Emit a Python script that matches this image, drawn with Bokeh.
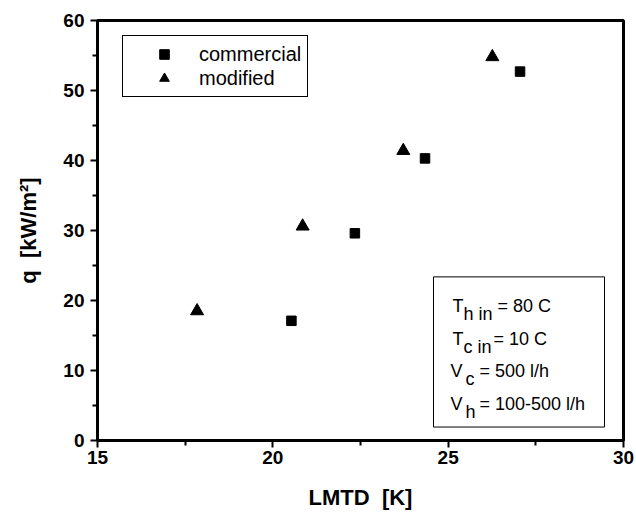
from bokeh.plotting import figure
from bokeh.models import Range1d, Legend, LegendItem, BoxAnnotation, Label, FixedTicker
from bokeh.embed import file_html
from bokeh.resources import INLINE

# ---- data ----
commercial_x = [20.53, 22.34, 24.34, 27.05]
commercial_y = [17.1, 29.6, 40.3, 52.7]
modified_x = [17.84, 20.85, 23.72, 26.26]
modified_y = [18.5, 30.6, 41.4, 54.8]
x_ticks = [15, 20, 25, 30]
y_ticks = [0, 10, 20, 30, 40, 50, 60]
series_labels = ["commercial", "modified"]

FONT = "Liberation Sans"

p = figure(width=636, height=512, output_backend="svg", toolbar_location=None,
           x_range=Range1d(x_ticks[0], x_ticks[-1]), y_range=Range1d(y_ticks[0], y_ticks[-1]),
           min_border_left=97, min_border_right=13, min_border_top=20, min_border_bottom=71,
           background_fill_color="white", border_fill_color="white")
p.grid.visible = False
p.outline_line_color = "black"
p.outline_line_width = 3
p.outline_line_alpha = 1.0

p.xaxis.ticker = FixedTicker(ticks=x_ticks,
                             minor_ticks=[(a + b) / 2 for a, b in zip(x_ticks, x_ticks[1:])])
p.yaxis.ticker = FixedTicker(ticks=y_ticks,
                             minor_ticks=[(a + b) / 2 for a, b in zip(y_ticks, y_ticks[1:])])
p.xaxis.axis_label = "LMTD\u00a0\u00a0[K]"
p.yaxis.axis_label = "q\u00a0\u00a0[kW/m\u00b2]"
for ax in (p.xaxis[0], p.yaxis[0]):
    ax.axis_line_width = 3
    ax.axis_line_color = "black"
    ax.major_tick_line_width = 2
    ax.minor_tick_line_width = 2
    ax.major_tick_line_color = "black"
    ax.minor_tick_line_color = "black"
    ax.major_tick_out = 7
    ax.major_tick_in = 0
    ax.minor_tick_out = 5
    ax.minor_tick_in = 0
    ax.major_label_text_font = FONT
    ax.major_label_text_font_style = "bold"
    ax.major_label_text_font_size = "19px"
    ax.major_label_text_color = "black"
    ax.axis_label_text_font = FONT
    ax.axis_label_text_font_style = "bold"
    ax.axis_label_text_font_size = "22px"
    ax.axis_label_text_color = "black"
p.xaxis.major_label_standoff = 3
p.yaxis.major_label_standoff = 6
p.xaxis.axis_label_standoff = 18
p.yaxis.axis_label_standoff = 19

r1 = p.scatter(commercial_x, commercial_y, marker="square", size=9.5, color="black")
r2 = p.scatter(modified_x, modified_y, marker="triangle", size=13, color="black")

legend = Legend(items=[LegendItem(label=series_labels[0], renderers=[r1]),
                       LegendItem(label=series_labels[1], renderers=[r2])],
                location=(25, 343), padding=6, spacing=0, margin=0,
                glyph_width=70, glyph_height=24, label_standoff=-4, label_height=24,
                label_text_font=FONT, label_text_font_size="20px", label_text_color="black",
                border_line_color="black", border_line_width=1, border_line_alpha=1.0,
                background_fill_color="white", background_fill_alpha=1.0)
p.add_layout(legend)

# reference frame in pixels (for placing annotations)
FX0, FX1, FY0, FY1 = 97.0, 623.0, 20.5, 441.5
def px2x(px):
    return x_ticks[0] + (px - FX0) / (FX1 - FX0) * (x_ticks[-1] - x_ticks[0])
def py2y(py):
    return y_ticks[0] + (FY1 - py) / (FY1 - FY0) * (y_ticks[-1] - y_ticks[0])

box = BoxAnnotation(left=px2x(433), right=px2x(604), top=py2y(277.5), bottom=py2y(428),
                    fill_alpha=0, line_color="black", line_alpha=1.0, line_width=1)
p.add_layout(box)

# annotation text: (main, subscript, rest, left px, baseline px, sub offset, rest offset)
ann_lines = [("T", "h in", "= 80 C", 452, 307, 11, 45),
             ("T", "c in", "= 10 C", 452, 339.5, 11, 41),
             ("V", "c", "= 500 l/h", 450, 372, 15, 29),
             ("V", "h", "= 100-500 l/h", 450, 404.5, 15, 29)]
for main, sub, rest, left, base, soff, roff in ann_lines:
    common = dict(x=px2x(left), y=py2y(base), text_font=FONT, text_color="black",
                  text_baseline="alphabetic", text_align="left", text_font_size="18px")
    p.add_layout(Label(text=main, **common))
    p.add_layout(Label(text=sub, x_offset=soff, y_offset=-8, **common))
    p.add_layout(Label(text=rest, x_offset=roff, **common))

open("out.html", "w").write(file_html(p, INLINE))
